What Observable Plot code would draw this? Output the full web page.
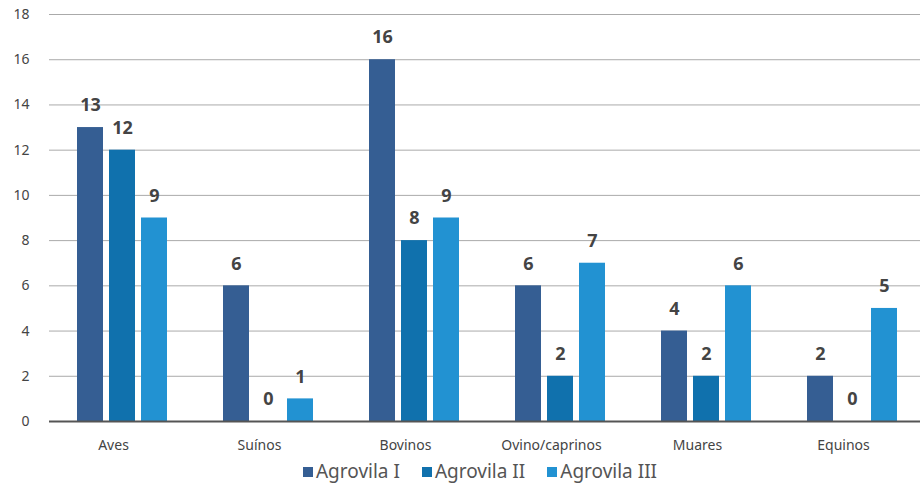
<!DOCTYPE html>
<html>
<head>
<meta charset="utf-8">
<script src="https://cdn.jsdelivr.net/npm/d3@7"></script>
<script src="https://cdn.jsdelivr.net/npm/@observablehq/plot@0.6"></script>
<style>
  body { margin: 0; background: #fff; font-family: "Noto Sans", sans-serif; overflow: hidden; }
  #chart { width: 920px; overflow: hidden; }
  .legend { display: flex; justify-content: center; gap: 22px; font-size: 19px; color: #555; margin-top: 3px; margin-left: 40px; }
  .legend span.sw { display: inline-block; width: 10px; height: 10px; margin-right: 3px; vertical-align: 1px; }
</style>
</head>
<body>
<div id="chart"></div>
<script>
const categories = ["Aves", "Suínos", "Bovinos", "Ovino/caprinos", "Muares", "Equinos"];
const series = ["Agrovila I", "Agrovila II", "Agrovila III"];
const agrovilaI = [13, 6, 16, 6, 4, 2];
const agrovilaII = [12, 0, 8, 2, 2, 0];
const agrovilaIII = [9, 1, 9, 7, 6, 5];
const colors = ["#355e93", "#1071ad", "#2292d2"];
const yTicks = [0, 2, 4, 6, 8, 10, 12, 14, 16, 18];

const seriesValues = [agrovilaI, agrovilaII, agrovilaIII];
const data = [];
categories.forEach((c, i) => {
  series.forEach((s, j) => data.push({category: c, series: s, value: seriesValues[j][i]}));
});

const chart = Plot.plot({
  width: 926,
  height: 455,
  marginLeft: 47,
  marginRight: 0,
  marginTop: 14,
  marginBottom: 34,
  style: {fontFamily: "'Noto Sans', sans-serif", color: "#444", background: "#fff", maxWidth: "none"},
  fx: {domain: categories, padding: 0, label: null, axis: null},
  x: {domain: series, paddingInner: 0.2, paddingOuter: 0.85, axis: null},
  y: {domain: [0, 18], ticks: yTicks, label: null, axis: null},
  color: {domain: series, range: colors},
  marks: [
    Plot.ruleY(yTicks.filter(d => d > 0), {stroke: "#aaa", strokeWidth: 1, facet: "exclude"}),
    Plot.axisY({ticks: yTicks, tickSize: 0, tickPadding: 20, fontSize: 14, fill: "#444", label: null}),
    Plot.barY(data, {fx: "category", x: "series", y: "value", fill: "series"}),
    Plot.text(data, {fx: "category", x: "series", y: "value", text: d => String(d.value), dy: -22, fontSize: 18, fontWeight: "bold", fill: "#444"}),
    Plot.ruleY([0], {stroke: "#555", strokeWidth: 2, facet: "exclude"}),
    Plot.axisFx({anchor: "bottom", tickSize: 0, tickPadding: 19, fontSize: 14, fill: "#444", dx: -9, label: null})
  ]
});
document.getElementById("chart").appendChild(chart);

const legend = document.createElement("div");
legend.className = "legend";
series.forEach((s, i) => {
  const item = document.createElement("div");
  const sw = document.createElement("span");
  sw.className = "sw";
  sw.style.background = colors[i];
  item.appendChild(sw);
  item.appendChild(document.createTextNode(s));
  legend.appendChild(item);
});
document.getElementById("chart").appendChild(legend);
</script>
</body>
</html>
